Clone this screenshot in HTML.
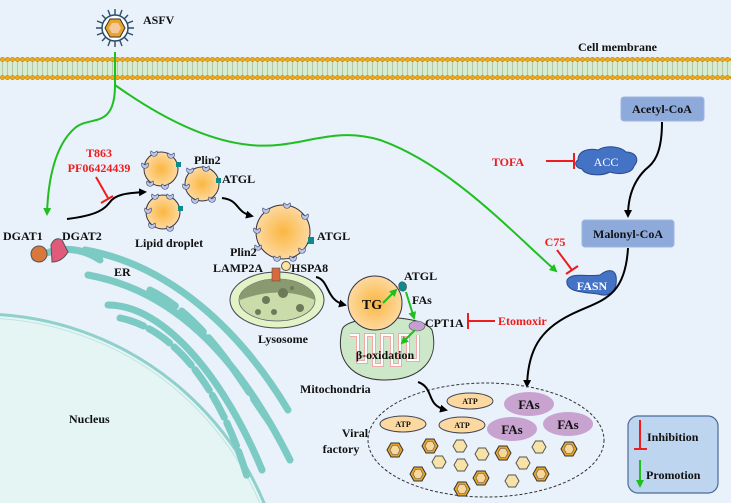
<!DOCTYPE html>
<html><head><meta charset="utf-8"><style>
html,body{margin:0;width:731px;height:503px;overflow:hidden;background:#e9f1fb}
svg{display:block;overflow:hidden}
text{font-family:"Liberation Serif",serif;font-weight:bold;font-size:12px;fill:#111}
.r{fill:#ee1c1c}
</style></head><body>
<svg width="731" height="503" viewBox="0 0 731 503" xmlns="http://www.w3.org/2000/svg">
<defs>
<pattern id="mem" x="0" y="57" width="5" height="23" patternUnits="userSpaceOnUse">
<rect width="5" height="23" fill="#d6ebcf"/>
<line x1="2.5" y1="3" x2="2.5" y2="20" stroke="#b5c7a8" stroke-width="1"/>
<circle cx="2.5" cy="2.5" r="2.2" fill="#f0a818" stroke="#b57a00" stroke-width=".5"/>
<circle cx="2.5" cy="20.5" r="2.2" fill="#f0a818" stroke="#b57a00" stroke-width=".5"/>
</pattern>
<radialGradient id="ld"><stop offset="0" stop-color="#fbb640"/><stop offset="1" stop-color="#fdd9a0"/></radialGradient>
<marker id="ab" markerWidth="8" markerHeight="8" refX="6" refY="4" orient="auto" markerUnits="userSpaceOnUse"><path d="M0,0 L8,4 L0,8 Z" fill="#000"/></marker>
<marker id="ag" markerWidth="8" markerHeight="8" refX="6" refY="4" orient="auto" markerUnits="userSpaceOnUse"><path d="M0,0 L8,4 L0,8 Z" fill="#1fbf1f"/></marker>
<g id="hex"><polygon points="-8,0 -4,-7 4,-7 8,0 4,7 -4,7" fill="#e8a52a" stroke="#333" stroke-width="1"/><polygon points="-5,0 -2.5,-4.5 2.5,-4.5 5,0 2.5,4.5 -2.5,4.5" fill="#f7d89a" stroke="#555" stroke-width=".6"/></g>
<g id="hexs"><polygon points="-7,0 -3.5,-6 3.5,-6 7,0 3.5,6 -3.5,6" fill="#f7e3a8" stroke="#555" stroke-width="1"/></g>
<path id="pl" d="M-3,-2 A3.5,3.5 0 1 0 3,-2 L0,0 Z" fill="#b8c8ec" stroke="#446" stroke-width=".7"/>
</defs>
<circle cx="-20" cy="622" r="308" fill="#e4f5f4" stroke="#8fd0cc" stroke-width="3"/>
<circle cx="-20" cy="622" r="304" fill="none" stroke="#bfe5e2" stroke-width="1"/>
<g fill="none" stroke="#7ccac4" stroke-width="7" stroke-linecap="round">
<path d="M35,258 Q70,240 100,260"/>
<path d="M85,250 C170,265 240,330 288,410"/>
<path d="M88,275 C170,290 235,350 290,460"/>
<path d="M108,305 C165,305 225,380 262,470"/>
<path d="M150,290 C210,320 245,390 275,430" stroke-dasharray="30 8"/>
<path d="M120,318 C180,330 225,400 248,480" stroke-dasharray="25 6"/>
</g>
<rect x="0" y="57" width="731" height="23" fill="url(#mem)"/>
<g transform="translate(115,28)">
<g stroke="#2d4b6b" stroke-width="1.4">
<line x1="0" y1="-19" x2="0" y2="19"/><line x1="-19" y1="0" x2="19" y2="0"/>
<line x1="-13" y1="-13" x2="13" y2="13"/><line x1="-13" y1="13" x2="13" y2="-13"/>
<line x1="-7" y1="-18" x2="7" y2="18"/><line x1="7" y1="-18" x2="-7" y2="18"/>
<line x1="-18" y1="-7" x2="18" y2="7"/><line x1="-18" y1="7" x2="18" y2="-7"/>
</g>
<circle r="13" fill="#fff" stroke="#2d4b6b" stroke-width="1.5"/>
<polygon points="-10,0 -5,-9 5,-9 10,0 5,9 -5,9" fill="#e8a52a" stroke="#333"/>
<polygon points="-6,0 -3,-5 3,-5 6,0 3,5 -3,5" fill="#f5c9a0"/>
</g>
<text x="143" y="24">ASFV</text>
<text x="578" y="51">Cell membrane</text>
<g fill="none" stroke="#1fbf1f" stroke-width="2">
<path d="M115,52 L115,85 C115,130 90,115 75,128 C55,145 48,180 47,214" marker-end="url(#ag)"/>
<path d="M115,85 C150,110 200,140 250,145 C300,150 330,125 380,140 C450,165 510,230 556,271" marker-end="url(#ag)"/>
</g>
<circle cx="39" cy="254" r="8" fill="#d9783d" stroke="#555"/>
<path d="M51,245 Q55,236 62,240 L68,252 Q62,262 52,262 Z" fill="#e05a7a" stroke="#555"/>
<text x="3" y="240">DGAT1</text>
<text x="62" y="240">DGAT2</text>
<text x="114" y="276">ER</text>
<text x="69" y="423">Nucleus</text>
<path d="M67,219 C100,215 105,208 110,202 C115,195 125,193 145,192" fill="none" stroke="#000" stroke-width="2" marker-end="url(#ab)"/>
<text x="99" y="157" class="r" text-anchor="middle">T863</text>
<text x="99" y="172" class="r" text-anchor="middle">PF06424439</text>
<line x1="96" y1="177" x2="108" y2="198" stroke="#ee1c1c" stroke-width="2"/>
<line x1="101" y1="203" x2="113" y2="196" stroke="#ee1c1c" stroke-width="2"/>
<g stroke="#334" stroke-width="1" fill="url(#ld)">
<circle cx="161" cy="169" r="17"/><circle cx="202" cy="184" r="17"/><circle cx="163" cy="212" r="17"/>
</g>
<use href="#pl" x="154" y="153"/><use href="#pl" x="171" y="155"/><use href="#pl" x="145" y="165"/><use href="#pl" x="150" y="183"/><use href="#pl" x="165" y="186"/>
<use href="#pl" x="190" y="170"/><use href="#pl" x="206" y="168"/><use href="#pl" x="186" y="186"/><use href="#pl" x="195" y="200"/><use href="#pl" x="212" y="199"/>
<use href="#pl" x="155" y="196"/><use href="#pl" x="170" y="196"/><use href="#pl" x="148" y="210"/><use href="#pl" x="152" y="225"/><use href="#pl" x="170" y="228"/>
<g fill="#0f8a8a"><rect x="176" y="162" width="5" height="5"/><rect x="216" y="178" width="5" height="5"/><rect x="178" y="206" width="5" height="5"/></g>
<text x="194" y="164">Plin2</text>
<text x="222" y="183">ATGL</text>
<text x="135" y="247">Lipid droplet</text>
<path d="M222,198 C240,200 235,212 252,216" fill="none" stroke="#000" stroke-width="2" marker-end="url(#ab)"/>
<circle cx="283" cy="232" r="27" fill="url(#ld)" stroke="#334"/>
<use href="#pl" x="266" y="210"/><use href="#pl" x="287" y="205"/><use href="#pl" x="305" y="216"/><use href="#pl" x="257" y="230"/><use href="#pl" x="258" y="247"/><use href="#pl" x="302" y="250"/><use href="#pl" x="277" y="258"/><use href="#pl" x="293" y="258"/>
<rect x="308" y="237" width="6" height="7" fill="#0f8a8a"/>
<text x="317" y="240">ATGL</text>
<text x="230" y="256">Plin2</text>
<text x="213" y="272">LAMP2A</text>
<text x="291" y="272">HSPA8</text>
<circle cx="286" cy="266" r="4.5" fill="#fce3a0" stroke="#554"/>
<ellipse cx="277" cy="300" rx="47" ry="28" fill="#e2f3c6" stroke="#445" stroke-width="1"/>
<ellipse cx="277" cy="300" rx="38" ry="21" fill="#c9dcaa" stroke="#556" stroke-width=".7"/>
<path d="M240,295 A38,21 0 0 1 315,300 Q280,285 240,300 Z" fill="#8a9a70"/>
<g fill="#6c7a58"><circle cx="283" cy="293" r="5"/><circle cx="266" cy="300" r="4"/><circle cx="300" cy="308" r="4"/><circle cx="258" cy="312" r="3"/><circle cx="274" cy="312" r="3"/><circle cx="292" cy="288" r="2"/></g>
<rect x="272" y="268" width="8" height="13" fill="#d9683a" stroke="#555" stroke-width=".6"/>
<text x="258" y="343">Lysosome</text>
<path d="M316,277 C330,280 325,300 345,305" fill="none" stroke="#000" stroke-width="2" marker-end="url(#ab)"/>
<path d="M342,330 C345,315 420,312 432,330 C440,360 420,380 385,380 C352,380 335,360 342,330 Z" fill="#cde8c8" stroke="#333" stroke-width="1"/>
<path d="M350,335 L358,335 L358,362 L366,362 L366,335 L374,335 L374,365 L382,365 L382,335 L392,335 L392,365 L400,365 L400,335 L408,335 L408,360 L418,360 L418,335" fill="none" stroke="#f1a8a8" stroke-width="4"/>
<path d="M350,335 L358,335 L358,362 L366,362 L366,335 L374,335 L374,365 L382,365 L382,335 L392,335 L392,365 L400,365 L400,335 L408,335 L408,360 L418,360 L418,335" fill="none" stroke="#fff" stroke-width="2"/>
<circle cx="375" cy="303" r="27" fill="url(#ld)" stroke="#334"/>
<text x="372" y="309" text-anchor="middle" style="font-size:14px">TG</text>
<text x="385" y="359" text-anchor="middle">β-oxidation</text>
<text x="300" y="393">Mitochondria</text>
<path d="M400,290 C396,283 402,279 406,284 C408,290 404,293 400,290 Z" fill="#0f8a8a" stroke="#333" stroke-width=".5"/>
<ellipse cx="417" cy="326" rx="8" ry="5" fill="#c3a0d0" stroke="#555" stroke-width=".6"/>
<g stroke="#1fbf1f" stroke-width="2" fill="none">
<line x1="383" y1="303" x2="396" y2="290" marker-end="url(#ag)"/>
<line x1="406" y1="292" x2="414" y2="318" marker-end="url(#ag)"/>
<line x1="415" y1="330" x2="402" y2="343" marker-end="url(#ag)"/>
</g>
<text x="404" y="280">ATGL</text>
<text x="412" y="304">FAs</text>
<text x="425" y="327">CPT1A</text>
<line x1="467" y1="321" x2="495" y2="321" stroke="#ee1c1c" stroke-width="2"/>
<line x1="468" y1="313" x2="468" y2="329" stroke="#ee1c1c" stroke-width="2"/>
<text x="498" y="325" class="r">Etomoxir</text>
<rect x="621" y="97" width="83" height="24" rx="3" fill="#8eaadb" stroke="#9fb6e0"/>
<text x="662" y="113" text-anchor="middle">Acetyl-CoA</text>
<rect x="582" y="220" width="92" height="27" rx="3" fill="#8eaadb" stroke="#9fb6e0"/>
<text x="628" y="238" text-anchor="middle">Malonyl-CoA</text>
<path d="M662,122 C662,160 650,165 645,170 C635,180 628,195 628,216" fill="none" stroke="#000" stroke-width="2" marker-end="url(#ab)"/>
<path d="M578,160 C578,150 590,148 598,150 C606,145 620,146 626,152 C636,152 640,160 634,166 C632,174 618,175 610,172 C600,177 585,175 582,169 C575,168 574,162 578,160 Z" fill="#4472c4" stroke="#2a4a8a"/>
<text x="606" y="166" text-anchor="middle" style="fill:#fff;font-weight:normal">ACC</text>
<text x="508" y="166" class="r" text-anchor="middle">TOFA</text>
<line x1="546" y1="161" x2="573" y2="161" stroke="#ee1c1c" stroke-width="2"/>
<line x1="574" y1="153" x2="574" y2="169" stroke="#ee1c1c" stroke-width="2"/>
<text x="555" y="246" class="r" text-anchor="middle">C75</text>
<line x1="557" y1="250" x2="572" y2="270" stroke="#ee1c1c" stroke-width="2"/>
<line x1="566" y1="274" x2="578" y2="266" stroke="#ee1c1c" stroke-width="2"/>
<path d="M567,280 C572,272 585,277 600,275 C606,270 614,268 616,276 C618,290 610,298 598,294 C582,292 565,292 567,280 Z" fill="#4472c4" stroke="#2a4a8a"/>
<text x="592" y="290" text-anchor="middle" style="fill:#fff">FASN</text>
<path d="M628,248 C625,300 600,300 570,315 C540,330 528,350 527,386" fill="none" stroke="#000" stroke-width="2" marker-end="url(#ab)"/>
<ellipse cx="486" cy="440" rx="118" ry="57" fill="none" stroke="#333" stroke-width="1" stroke-dasharray="3 2"/>
<path d="M418,382 C435,388 425,405 446,410" fill="none" stroke="#000" stroke-width="2" marker-end="url(#ab)"/>
<text x="355" y="437" text-anchor="middle">Viral</text>
<text x="341" y="453" text-anchor="middle">factory</text>
<g fill="#fcd9a0" stroke="#445" stroke-width="1">
<ellipse cx="470" cy="401" rx="23" ry="8"/><ellipse cx="403" cy="424" rx="23" ry="8"/><ellipse cx="462" cy="425" rx="23" ry="8"/>
</g>
<text x="470" y="404" text-anchor="middle" style="font-size:8px">ATP</text>
<text x="403" y="427" text-anchor="middle" style="font-size:8px">ATP</text>
<text x="462" y="428" text-anchor="middle" style="font-size:8px">ATP</text>
<g fill="#c9a3cf"><ellipse cx="529" cy="404" rx="25" ry="12"/><ellipse cx="512" cy="429" rx="25" ry="12"/><ellipse cx="568" cy="424" rx="25" ry="12"/></g>
<text x="529" y="409" text-anchor="middle" style="font-size:13px">FAs</text>
<text x="512" y="434" text-anchor="middle" style="font-size:13px">FAs</text>
<text x="568" y="429" text-anchor="middle" style="font-size:13px">FAs</text>
<use href="#hex" x="395" y="450"/><use href="#hex" x="430" y="446"/><use href="#hex" x="503" y="453"/><use href="#hex" x="569" y="449"/>
<use href="#hex" x="418" y="474"/><use href="#hex" x="481" y="478"/><use href="#hex" x="541" y="474"/><use href="#hex" x="462" y="489"/>
<use href="#hexs" x="460" y="446"/><use href="#hexs" x="482" y="454"/><use href="#hexs" x="439" y="462"/><use href="#hexs" x="461" y="465"/><use href="#hexs" x="523" y="463"/><use href="#hexs" x="539" y="447"/><use href="#hexs" x="512" y="481"/>
<rect x="628" y="416" width="90" height="77" rx="10" fill="#bdd5ee" stroke="#4a6a9a" stroke-width="1.2"/>
<line x1="640" y1="420" x2="640" y2="448" stroke="#ee1c1c" stroke-width="2"/>
<line x1="634" y1="449" x2="647" y2="449" stroke="#ee1c1c" stroke-width="2"/>
<text x="647" y="441">Inhibition</text>
<line x1="640" y1="460" x2="640" y2="486" stroke="#1fbf1f" stroke-width="2" marker-end="url(#ag)"/>
<text x="646" y="479">Promotion</text>
</svg>
</body></html>
